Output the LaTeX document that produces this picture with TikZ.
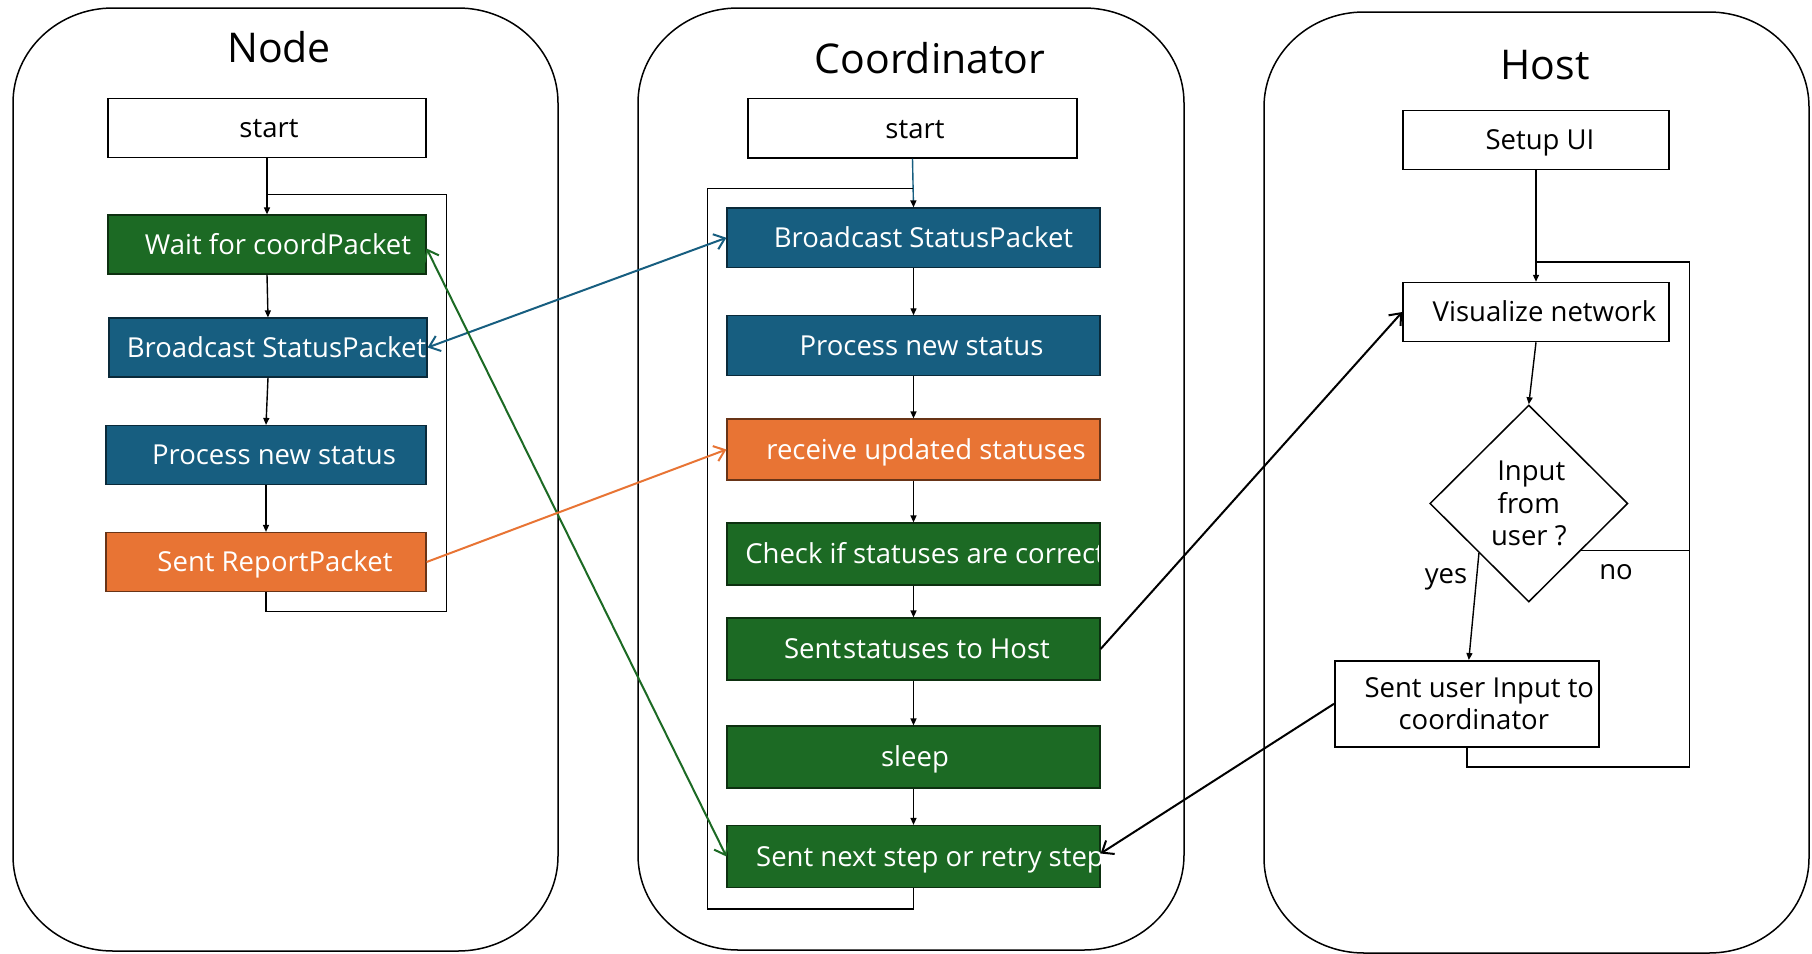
\documentclass[tikz,border=0pt]{standalone}
\usepackage{fontspec}
\setmainfont{Open Sans}
\usetikzlibrary{arrows.meta,shapes.geometric,calc}

\definecolor{flowgreen}{RGB}{28,106,36}
\definecolor{flowblue}{RGB}{23,94,128}
\definecolor{floworange}{RGB}{232,116,52}

% text centred in a box, moved right by half of the first argument (in pt)
\newcommand\fctext[2]{\makebox[0pt]{\hspace*{#1pt}#2}}

% swim lane with elliptical corners
\newcommand\lanepanel[4]{%
  \draw[panel] ({#1},{#2+95}) arc[start angle=180,end angle=90,x radius=100pt,y radius=95pt]
    -- ({#3-100},{#2}) arc[start angle=90,end angle=0,x radius=100pt,y radius=95pt]
    -- ({#3},{#4-95}) arc[start angle=0,end angle=-90,x radius=100pt,y radius=95pt]
    -- ({#1+100},{#4}) arc[start angle=-90,end angle=-180,x radius=100pt,y radius=95pt]
    -- cycle;}

\tikzset{
  panel/.style={draw=black, line width=1.5pt},
  title/.style={font=\fontsize{41}{48}\selectfont, inner sep=0pt},
  stepbox/.style={rectangle, draw=black, line width=1.5pt, fill=white, inner sep=0pt,
    font=\fontsize{27.5}{32}\selectfont, text=black, text height=19.6pt, text depth=0pt},
  greenbox/.style={stepbox, fill=flowgreen, draw=flowgreen!45!black, line width=1.2pt, text=white},
  bluebox/.style={stepbox, fill=flowblue, draw=flowblue!45!black, line width=1.2pt, text=white},
  orangebox/.style={stepbox, fill=floworange, draw=floworange!45!black, line width=1.2pt, text=white},
  flow/.style={draw=black, line width=1.4pt, -{Triangle[length=7pt,width=6pt]}},
  loopline/.style={draw=black, line width=1.5pt},
  link/.style={line width=2pt, arrows={-Straight Barb[length=10pt,width=16pt,line width=2pt]}},
  dlink/.style={line width=2pt, arrows={Straight Barb[length=10pt,width=16pt,line width=2pt]-Straight Barb[length=10pt,width=16pt,line width=2pt]}},
  tag/.style={font=\fontsize{27.5}{32}\selectfont, inner sep=0pt},
}

\begin{document}
\begin{tikzpicture}[x=1pt,y=-1pt]
\useasboundingbox (0,0) rectangle (1812,953);
\fill[white] (0,0) rectangle (1812,953);

% lanes
\lanepanel{13}{8}{558}{951}
\lanepanel{638}{8}{1184}{950}
\lanepanel{1264}{12}{1809}{953}

\node[title] (tnode) at (279,47) {Node};
\node[title] (tcoord) at (930,58) {Coordinator};
\node[title] (thost) at (1545,65) {Host};

% ---------- Node lane ----------
\node[stepbox, minimum width=318pt, minimum height=59pt] (nstart) at (267,128) {\fctext{4}{start}};
\node[greenbox, minimum width=318pt, minimum height=59pt] (nwait) at (267,244.5) {\fctext{22}{Wait for coordPacket}};
\node[bluebox, minimum width=318pt, minimum height=59pt] (nbcast) at (268,347.5) {\fctext{17}{Broadcast StatusPacket}};
\node[bluebox, minimum width=320pt, minimum height=59pt] (nproc) at (266,455) {\fctext{16}{Process new status}};
\node[orangebox, minimum width=320pt, minimum height=59pt] (nsent) at (266,562) {\fctext{18}{Sent ReportPacket}};

\coordinate (nloopbr) at (446.6,611.5);
\coordinate (nlooptr) at (446.6,194.5);
\draw[flow] (nstart.south) -- (nwait.north);
\draw[flow] (nwait.south) -- (nbcast.north);
\draw[flow] (nbcast.south) -- (nproc.north);
\draw[flow] (nproc.south) -- (nsent.north);
\draw[loopline] (nsent.south) |- (nloopbr) -- (nlooptr) -- (nlooptr -| nstart.south);

% ---------- Coordinator lane ----------
\node[stepbox, minimum width=329pt, minimum height=59.5pt] (cstart) at (912.5,128.25) {\fctext{5}{start}};
\node[bluebox, minimum width=373pt, minimum height=59.5pt] (cbcast) at (913.5,237.75) {\fctext{20}{Broadcast StatusPacket}};
\node[bluebox, minimum width=373pt, minimum height=60pt] (cproc) at (913.5,345.85) {\fctext{16}{Process new status}};
\node[orangebox, minimum width=373pt, minimum height=61pt] (crecv) at (913.5,449.5) {\fctext{25}{receive updated statuses}};
\node[greenbox, minimum width=373pt, minimum height=62pt,
  path picture={\node[anchor=west, inner sep=0pt, text=white, font=\fontsize{27.5}{32}\selectfont,
      text height=19.6pt, text depth=0pt]
    at ($(path picture bounding box.west)+(11,0)$) {Check if statuses are correct};}] (cchk) at (913.5,554) {};
\node[greenbox, minimum width=373pt, minimum height=62pt] (cstat) at (913.5,649) {\fctext{7}{Sent\kern2pt statuses to Host}};
\node[greenbox, minimum width=373pt, minimum height=62pt] (csleep) at (913.5,757) {\fctext{3}{sleep}};
\node[greenbox, minimum width=373pt, minimum height=62pt] (cnext) at (913.5,856.5) {\fctext{33}{Sent next step or retry step}};

\coordinate (cloopbl) at (707.6,909);
\coordinate (clooptl) at (707.6,188.5);
\draw[line width=1.4pt, flowblue, -{Triangle[length=7pt,width=6pt,color=black]}] (cstart.south) -- (cbcast.north);
\draw[flow] (cbcast.south) -- (cproc.north);
\draw[flow] (cproc.south) -- (crecv.north);
\draw[flow] (crecv.south) -- (cchk.north);
\draw[flow] (cchk.south) -- (cstat.north);
\draw[flow] (cstat.south) -- (csleep.north);
\draw[flow] (csleep.south) -- (cnext.north);
\draw[loopline] (cnext.south) |- (cloopbl) -- (clooptl) -- (clooptl -| cstart.south);

% ---------- Host lane ----------
\node[stepbox, minimum width=266pt, minimum height=59pt] (hsetup) at (1536,140) {\fctext{8}{Setup UI}};
\node[stepbox, minimum width=266pt, minimum height=59pt] (hvis) at (1536,312) {\fctext{17}{Visualize network}};
\node[diamond, draw=black, line width=1.5pt, fill=white, inner sep=0pt, minimum width=198pt, minimum height=197pt,
  align=center, font=\fontsize{27.5}{32.5}\selectfont] (hdec) at (1528.8,503.5) {\hspace*{5pt}Input\\from\\user ?};
\node[stepbox, minimum width=264pt, minimum height=86pt, align=center, text height=, text depth=] (huser) at (1466.8,703.75)
  {\hspace*{25pt}Sent user Input to\\\hspace*{14pt}coordinator};

\coordinate (hlooptr) at (1689.5,262);
\coordinate (hloopbr) at (1689.5,767);
\coordinate (hno) at ($(hdec.east)!0.472!(hdec.south)$);
\coordinate (hyes) at ($(hdec.west)!0.5!(hdec.south)$);
\draw[flow] (hsetup.south) -- (hvis.north);
\draw[flow] (hvis.south) -- (hdec.north);
\draw[flow] (hyes) -- ($(huser.north)+(2,0)$);
\draw[loopline] (huser.south) |- (hloopbr) -- (hlooptr) -- (hlooptr -| hvis.north);
\draw[loopline] (hno) -- (hno -| hlooptr);
\node[tag] (lyes) at (1446,579) {yes};
\node[tag] (lno) at (1616,572) {no};

% ---------- links between lanes ----------
\draw[dlink, flowblue] (nbcast.east) -- (cbcast.west);
\draw[dlink, flowgreen] ($(nwait.east)+(0,4)$) -- (cnext.west);
\draw[link, floworange] (nsent.east) -- (crecv.west);
\draw[link, black] (cstat.east) -- (hvis.west);
\draw[link, black] (huser.west) -- ($(cnext.east)+(0,-3)$);
\end{tikzpicture}
\end{document}
